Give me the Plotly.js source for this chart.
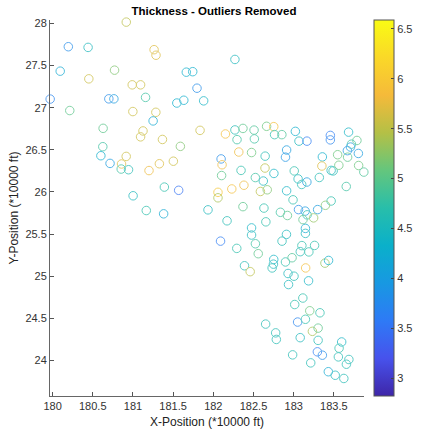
<!DOCTYPE html>
<html>
<head>
<meta charset="utf-8">
<script src="https://cdn.plot.ly/plotly-3.0.1.min.js"></script>
<style>html,body{margin:0;padding:0;background:#fff;}#chart{width:428px;height:433px;}</style>
</head>
<body>
<div id="chart"></div>
<script>
// X-Position (*10000 ft)
const xPos = [
180.917,180.979,180.196,180.442,180.095,180.451,180.771,179.970,180.700,180.763,
180.214,180.629,180.625,180.601,180.715,180.916,180.858,180.854,180.945,181.002,
181.263,181.287,180.991,181.095,181.157,180.999,181.285,181.251,181.125,181.095,
181.367,181.590,181.200,181.329,181.503,181.391,181.569,181.166,181.382,181.934,
181.546,181.633,181.664,181.744,181.797,181.880,181.835,182.269,
182.151,182.269,182.369,182.295,182.507,182.511,182.663,182.752,182.762,182.853,
183.021,183.066,183.165,183.456,183.456,183.683,183.787,183.719,183.707,183.668,
183.805,182.317,182.476,182.645,182.912,182.898,182.097,182.109,183.357,183.547,
183.671,182.345,182.643,182.754,182.103,182.523,182.622,183.007,183.055,183.164,
183.100,183.319,183.351,183.466,183.491,183.562,183.808,183.873,183.654,182.058,
182.058,182.230,182.381,182.586,182.671,182.912,182.992,183.466,183.395,182.369,
182.630,183.060,183.143,183.167,183.298,182.835,182.922,183.116,183.248,182.171,
182.654,182.476,182.476,182.090,182.292,182.524,182.559,182.855,182.910,183.146,
183.146,183.102,183.260,183.082,183.189,182.752,182.748,182.732,182.898,182.980,
182.388,182.459,182.930,183.004,182.936,183.149,183.185,183.389,183.434,183.114,
183.013,183.200,183.327,183.049,183.146,183.233,183.304,182.651,182.776,182.784,
183.081,183.304,183.295,183.357,182.987,183.212,183.597,183.565,183.556,183.687,
183.656,183.431,183.517,183.624,183.357
];
// Y-Position (*10000 ft)
const yPos = [
28.015,28.048,27.723,27.715,27.433,27.342,27.445,27.102,27.105,27.105,
26.966,26.755,26.537,26.430,26.339,26.422,26.332,26.272,26.264,25.955,
27.688,27.622,27.271,27.271,27.122,26.954,26.945,26.843,26.724,26.654,
26.623,26.541,26.254,26.335,26.365,26.058,26.020,25.780,25.741,25.788,
27.055,27.088,27.421,27.427,27.231,27.081,26.731,27.572,
26.688,26.736,26.754,26.621,26.734,26.630,26.779,26.775,26.680,26.680,
26.719,26.603,26.603,26.671,26.618,26.710,26.611,26.567,26.533,26.490,
26.457,26.474,26.468,26.425,26.498,26.413,26.392,26.323,26.416,26.442,
26.413,26.256,26.284,26.220,26.195,26.171,26.130,26.250,26.155,26.118,
26.089,26.172,26.308,26.256,26.250,26.317,26.314,26.236,26.065,25.996,
25.931,26.036,26.080,26.006,26.026,26.014,25.907,25.893,25.842,25.826,
25.809,25.791,25.773,25.729,25.791,25.759,25.721,25.672,25.693,25.658,
25.646,25.574,25.489,25.417,25.331,25.386,25.268,25.417,25.497,25.568,
25.509,25.364,25.366,25.292,25.289,25.200,25.144,25.099,25.170,25.220,
25.125,25.055,25.033,25.001,24.902,25.099,24.946,25.156,25.188,24.742,
24.665,24.591,24.567,24.457,24.490,24.347,24.385,24.433,24.329,24.251,
24.272,24.240,24.104,24.064,24.068,23.973,24.221,24.147,24.044,24.013,
23.957,23.868,23.826,23.788,23.577
];
// Thickness
const thickness = [
5.5,5.0,3.8,4.5,4.2,5.6,5.2,3.7,3.8,4.0,
5.0,5.0,4.8,4.3,4.0,5.6,5.7,4.8,4.6,4.5,
5.7,5.7,5.6,5.6,4.8,5.6,5.6,4.2,5.6,5.6,
5.6,5.2,5.8,5.7,5.6,4.7,3.5,4.7,4.2,4.5,
4.3,4.3,4.3,4.3,3.8,4.4,5.6,4.5,
5.9,4.6,5.0,4.8,4.9,4.8,5.1,5.9,4.7,4.9,
4.3,4.5,3.6,3.6,3.7,4.4,5.0,4.8,4.0,3.9,
4.0,5.8,5.1,4.6,4.0,3.9,3.8,5.8,4.3,5.1,
5.0,4.7,5.5,4.4,5.0,4.8,4.5,4.7,4.5,4.0,
4.6,4.6,5.7,4.5,4.6,5.1,5.1,4.9,4.8,6.0,
5.4,5.9,5.8,5.5,5.2,4.4,4.7,4.7,5.2,5.0,
4.7,3.8,4.0,4.6,4.0,4.8,5.0,5.0,5.3,4.6,
4.7,4.4,4.5,3.6,4.7,4.8,5.0,4.6,4.5,4.2,
4.5,4.7,4.7,4.6,4.7,4.4,4.5,4.6,4.7,4.9,
4.6,5.5,4.5,4.6,4.5,5.9,4.4,5.3,4.3,4.7,
4.7,5.1,4.7,3.7,4.7,5.4,5.0,4.6,4.6,4.6,
4.5,4.6,3.6,3.8,4.6,4.6,4.4,4.7,4.6,4.6,
4.6,4.2,4.5,4.6,3.6
];
const xTicks = [180,180.5,181,181.5,182,182.5,183,183.5];
const yTicks = [24,24.5,25,25.5,26,26.5,27,27.5,28];
const cTicks = [3,3.5,4,4.5,5,5.5,6,6.5];

const parula = [
  [0.0,'rgb(62,38,168)'],
  [0.1,'rgb(71,82,236)'],
  [0.2,'rgb(46,122,246)'],
  [0.3,'rgb(24,152,226)'],
  [0.4,'rgb(10,176,202)'],
  [0.5,'rgb(40,190,170)'],
  [0.6,'rgb(100,198,125)'],
  [0.7,'rgb(180,192,70)'],
  [0.8,'rgb(245,186,58)'],
  [0.9,'rgb(250,216,40)'],
  [1.0,'rgb(249,251,20)']
];

const font = {family:'"Liberation Sans", Arial, sans-serif', size:11, color:'#333'};

const trace = {
  type:'scatter', mode:'markers', x:xPos, y:yPos,
  cliponaxis:false,
  opacity:0.72,
  marker:{
    symbol:'circle-open', size:8.5, color:thickness,
    colorscale:parula, cmin:2.82, cmax:6.59,
    line:{width:1},
    colorbar:{
      x:1.0305, xanchor:'left', xref:'paper',
      y:0.5, yanchor:'middle', len:1, lenmode:'fraction',
      thickness:20, thicknessmode:'pixels',
      outlinewidth:1, outlinecolor:'#555',
      tickvals:cTicks, ticktext:cTicks.map(String),
      ticks:'inside', ticklen:3, tickcolor:'#444',
      tickfont:font, xpad:0, ypad:0
    }
  },
  hoverinfo:'x+y'
};

const layout = {
  width:428, height:433,
  margin:{l:50, r:50, t:20, b:37},
  paper_bgcolor:'#fff', plot_bgcolor:'#fff',
  font:font,
  showlegend:false,
  title:{text:'<b>Thickness - Outliers Removed</b>', x:0.5, xanchor:'center', y:0.975, yanchor:'middle',
         font:{family:'"Liberation Sans", Arial, sans-serif', size:11.5, color:'#000'}},
  xaxis:{
    range:[179.968,183.875], tickvals:xTicks, ticktext:xTicks.map(String),
    ticks:'inside', ticklen:4, tickcolor:'#555', showgrid:false, zeroline:false,
    showline:true, linecolor:'#666', linewidth:1, mirror:false,
    tickfont:font,
    title:{text:'X-Position (*10000 ft)', font:{family:'"Liberation Sans", Arial, sans-serif', size:12, color:'#222'}, standoff:6}
  },
  yaxis:{
    range:[23.58,28.04], tickvals:yTicks, ticktext:yTicks.map(String),
    ticks:'inside', ticklen:4, tickcolor:'#555', showgrid:false, zeroline:false,
    showline:true, linecolor:'#666', linewidth:1, mirror:false,
    tickfont:font,
    title:{text:'Y-Position (*10000 ft)', font:{family:'"Liberation Sans", Arial, sans-serif', size:12, color:'#222'}, standoff:4}
  }
};

Plotly.newPlot('chart',[trace],layout,{displayModeBar:false, staticPlot:true});
</script>
</body>
</html>
